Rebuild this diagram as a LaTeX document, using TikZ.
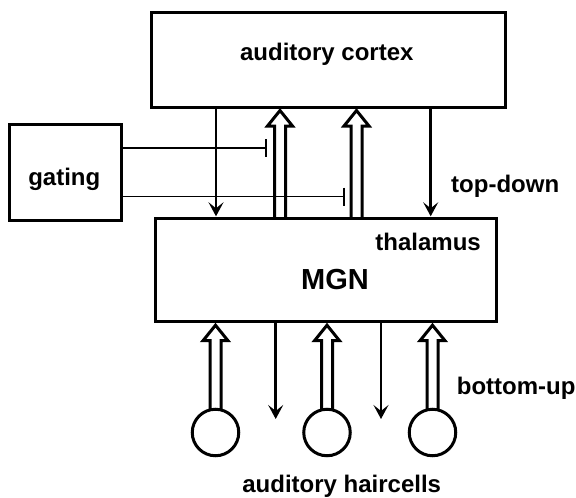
\documentclass[tikz,border=0pt]{standalone}
\usepackage{fontspec}
\setmainfont{Liberation Sans}
\usetikzlibrary{arrows.meta,calc}
\begin{document}
\begin{tikzpicture}[x=1pt,y=-1pt,
  box/.style={draw,line width=3pt,rectangle,inner sep=0pt,outer sep=0pt},
  cell/.style={draw,line width=3pt,circle,minimum size=46.5pt,inner sep=0pt,outer sep=0pt},
  lbl/.style={font=\fontsize{24}{28}\selectfont\bfseries,inner sep=0pt,anchor=base},
  arr/.style={line width=2.6pt,-{Stealth[length=14pt,width=15pt,inset=6pt]}},
  gate/.style={line width=1.2pt,-{Bar[width=18pt,line width=2pt]}},
  dbl/.style={line width=3pt,miter limit=10}
]
\useasboundingbox (0,0) rectangle (576,498);
\newcommand\uparr[2]{\draw[dbl] let \p1=(#1), \p2=(#2) in
  (\x1-5.5pt,\y1) -- (\x1-5.5pt,\y2-19pt) -- (\x1-12.5pt,\y2-19pt) -- (\x1,\y2-3.5pt)
  -- (\x1+12.5pt,\y2-19pt) -- (\x1+5.5pt,\y2-19pt) -- (\x1+5.5pt,\y1);}

% boxes
\node[box,minimum width=354pt,minimum height=95pt] (cortex) at (328,59.5) {};
\node[box,minimum width=111.7pt,minimum height=96pt] (gating) at (65.8,172) {};
\node[box,minimum width=340.7pt,minimum height=103.4pt] (mgn) at (326.3,270) {};

% haircells
\node[cell] (c1) at (215.5,432.5) {};
\node[cell] (c2) at (327,432.5) {};
\node[cell] (c3) at (432.5,432.5) {};

% labels
\node[lbl] (tcortex) at (326.8,60) {auditory cortex};
\node[lbl] (tgating) at (64.3,185) {gating};
\node[lbl,anchor=base west] (ttop) at (451,192) {top-down};
\node[lbl,anchor=base east] (tthal) at (481,250.7) {thalamus};
\node[lbl,font=\fontsize{29}{32}\selectfont\bfseries] (tmgn) at (335,289.7) {MGN};
\node[lbl,anchor=base west] (tbot) at (456.7,394.3) {bottom-up};
\node[lbl] (thair) at (341.7,492) {auditory haircells};

% reference columns
\coordinate (d1) at (216,0);
\coordinate (d2) at (430.7,0);
\coordinate (u1) at (280,0);
\coordinate (u2) at (356.5,0);
\coordinate (e1) at (275.7,419);
\coordinate (e2) at (381,419);
\coordinate (g1) at (266.7,148);
\coordinate (g2) at (345,196.7);

% top-down arrows
\draw[arr] (d1 |- cortex.south) -- ($(d1 |- mgn.north)+(0,-2)$);
\draw[arr] (d2 |- cortex.south) -- ($(d2 |- mgn.north)+(0,-2)$);
% MGN down arrows
\draw[arr] (e1 |- mgn.south) -- (e1);
\draw[arr] (e2 |- mgn.south) -- (e2);

% ascending double arrows
\uparr{u1 |- mgn.north}{u1 |- cortex.south}
\uparr{u2 |- mgn.north}{u2 |- cortex.south}
\uparr{c1.north}{c1.north |- mgn.south}
\uparr{c2.north}{c2.north |- mgn.south}
\uparr{c3.north}{c3.north |- mgn.south}

% gating
\draw[gate] (gating.east |- g1) -- (g1);
\draw[gate] (gating.east |- g2) -- (g2);
\end{tikzpicture}
\end{document}
